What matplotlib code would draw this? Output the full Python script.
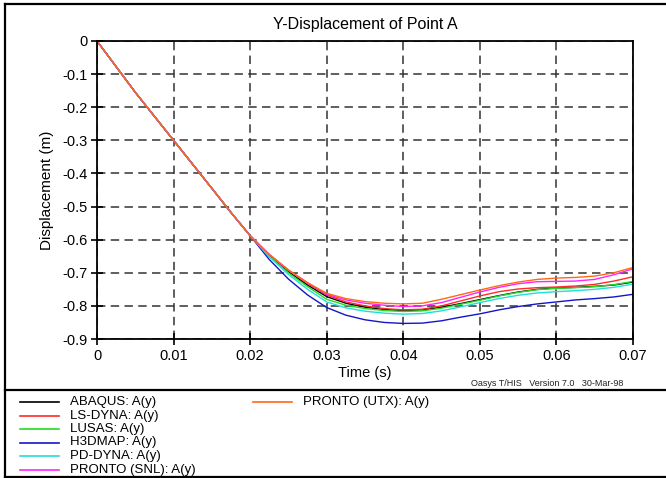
import numpy as np
import matplotlib
matplotlib.use("Agg")
from matplotlib import pyplot as plt
from matplotlib.lines import Line2D

plt.rcParams['font.family'] = ['Liberation Sans', 'DejaVu Sans']

# tempos (s)
tempo = [0, 0.005, 0.01, 0.015, 0.0175, 0.02, 0.0225, 0.025, 0.0275, 0.03, 0.0325, 0.035,
         0.0375, 0.04, 0.0425, 0.045, 0.0475, 0.05, 0.0525, 0.055, 0.0575, 0.06,
         0.0625, 0.065, 0.0675, 0.07]

inicio = [0, -0.155, -0.300, -0.445, -0.518, -0.588]

abaqus = inicio + [-0.648, -0.697, -0.737, -0.772, -0.792, -0.804, -0.811, -0.814, -0.812,
                   -0.804, -0.793, -0.781, -0.769, -0.758, -0.750, -0.746, -0.744, -0.741,
                   -0.737, -0.728]
ls_dyna = inicio + [-0.645, -0.692, -0.732, -0.767, -0.788, -0.800, -0.808, -0.812, -0.810,
                    -0.800, -0.785, -0.770, -0.757, -0.749, -0.745, -0.743, -0.740, -0.735,
                    -0.725, -0.712]
lusas = inicio + [-0.650, -0.700, -0.742, -0.780, -0.798, -0.808, -0.814, -0.817, -0.815,
                  -0.807, -0.795, -0.783, -0.770, -0.759, -0.751, -0.747, -0.745, -0.742,
                  -0.736, -0.726]
h3dmap = inicio + [-0.660, -0.719, -0.767, -0.805, -0.828, -0.842, -0.850, -0.853, -0.852,
                   -0.845, -0.834, -0.824, -0.812, -0.802, -0.794, -0.788, -0.782, -0.778,
                   -0.773, -0.765]
pd_dyna = inicio + [-0.652, -0.705, -0.750, -0.788, -0.806, -0.816, -0.822, -0.825, -0.823,
                    -0.815, -0.803, -0.790, -0.778, -0.768, -0.761, -0.757, -0.754, -0.750,
                    -0.744, -0.734]
pronto_snl = inicio + [-0.645, -0.692, -0.730, -0.765, -0.782, -0.792, -0.798, -0.802, -0.800,
                       -0.790, -0.774, -0.758, -0.744, -0.733, -0.727, -0.726, -0.725, -0.720,
                       -0.706, -0.688]
pronto_utx = inicio + [-0.645, -0.692, -0.730, -0.762, -0.778, -0.787, -0.792, -0.794, -0.792,
                       -0.780, -0.766, -0.752, -0.739, -0.728, -0.720, -0.716, -0.714, -0.710,
                       -0.700, -0.684]

nomes = ["ABAQUS: A(y)", "LS-DYNA: A(y)", "LUSAS: A(y)", "H3DMAP: A(y)",
         "PD-DYNA: A(y)", "PRONTO (SNL): A(y)", "PRONTO (UTX): A(y)"]
series = [abaqus, ls_dyna, lusas, h3dmap, pd_dyna, pronto_snl, pronto_utx]
cores = ["#000000", "#ff2a2a", "#22dd22", "#1515c8", "#22dddd", "#ff22ff", "#ff6a10"]

x_ticks = [0, 0.01, 0.02, 0.03, 0.04, 0.05, 0.06, 0.07]
x_labels = ["0", "0.01", "0.02", "0.03", "0.04", "0.05", "0.06", "0.07"]
y_ticks = [0, -0.1, -0.2, -0.3, -0.4, -0.5, -0.6, -0.7, -0.8, -0.9]
y_labels = ["0", "-0.1", "-0.2", "-0.3", "-0.4", "-0.5", "-0.6", "-0.7", "-0.8", "-0.9"]

W, H = 666, 478
fig = plt.figure(figsize=(W / 100, H / 100), dpi=100)
ax = fig.add_axes([97 / W, 1 - 339 / H, 536 / W, 298 / H])

for y, c in zip(series, cores):
    ax.plot(tempo, y, color=c, lw=1.0)

ax.set_xlim(0, 0.07)
ax.set_ylim(-0.9, 0)
ax.set_xticks(x_ticks)
ax.set_xticklabels(x_labels)
ax.set_yticks(y_ticks)
ax.set_yticklabels(y_labels)
ax.tick_params(direction='inout', length=9, width=1.2, labelsize=10.5, pad=2)
ax.tick_params(axis='x', pad=3)
ax.grid(True, color='#333333', linestyle=(0, (5.5, 3.5)), linewidth=1.1)
for s in ax.spines.values():
    s.set_linewidth(1.3)

ax.set_title("Y-Displacement of Point A", fontsize=11.5, pad=9)
ax.set_xlabel("Time (s)", fontsize=10.5, labelpad=2)
ax.set_ylabel("Displacement (m)", fontsize=11, labelpad=6)

fig.text(623 / W, 1 - 383 / H, "Oasys T/HIS   Version 7.0   30-Mar-98",
         fontsize=6.5, ha='right', va='center', color='#222222')

# moldura
moldura = dict(color='black', lw=1.6, transform=fig.transFigure)
fig.add_artist(Line2D([5 / W, 1], [1 - 4 / H, 1 - 4 / H], **moldura))
fig.add_artist(Line2D([5 / W, 5 / W], [1 - 4 / H, 1 - 477 / H], **moldura))
fig.add_artist(Line2D([5 / W, 1], [1 - 390 / H, 1 - 390 / H], **moldura))
fig.add_artist(Line2D([5 / W, 1], [1 - 477 / H, 1 - 477 / H], **moldura))

# legenda
for i, (nome, c) in enumerate(zip(nomes, cores)):
    if i < 6:
        x0, y0 = 20, 402 + i * 13.5
    else:
        x0, y0 = 253, 402
    fig.add_artist(Line2D([x0 / W, (x0 + 39) / W], [1 - y0 / H, 1 - y0 / H],
                          color=c, lw=1.2, transform=fig.transFigure))
    fig.text((x0 + 50) / W, 1 - y0 / H, nome, fontsize=9.5, ha='left', va='center')

fig.savefig("out.png", dpi=100)
